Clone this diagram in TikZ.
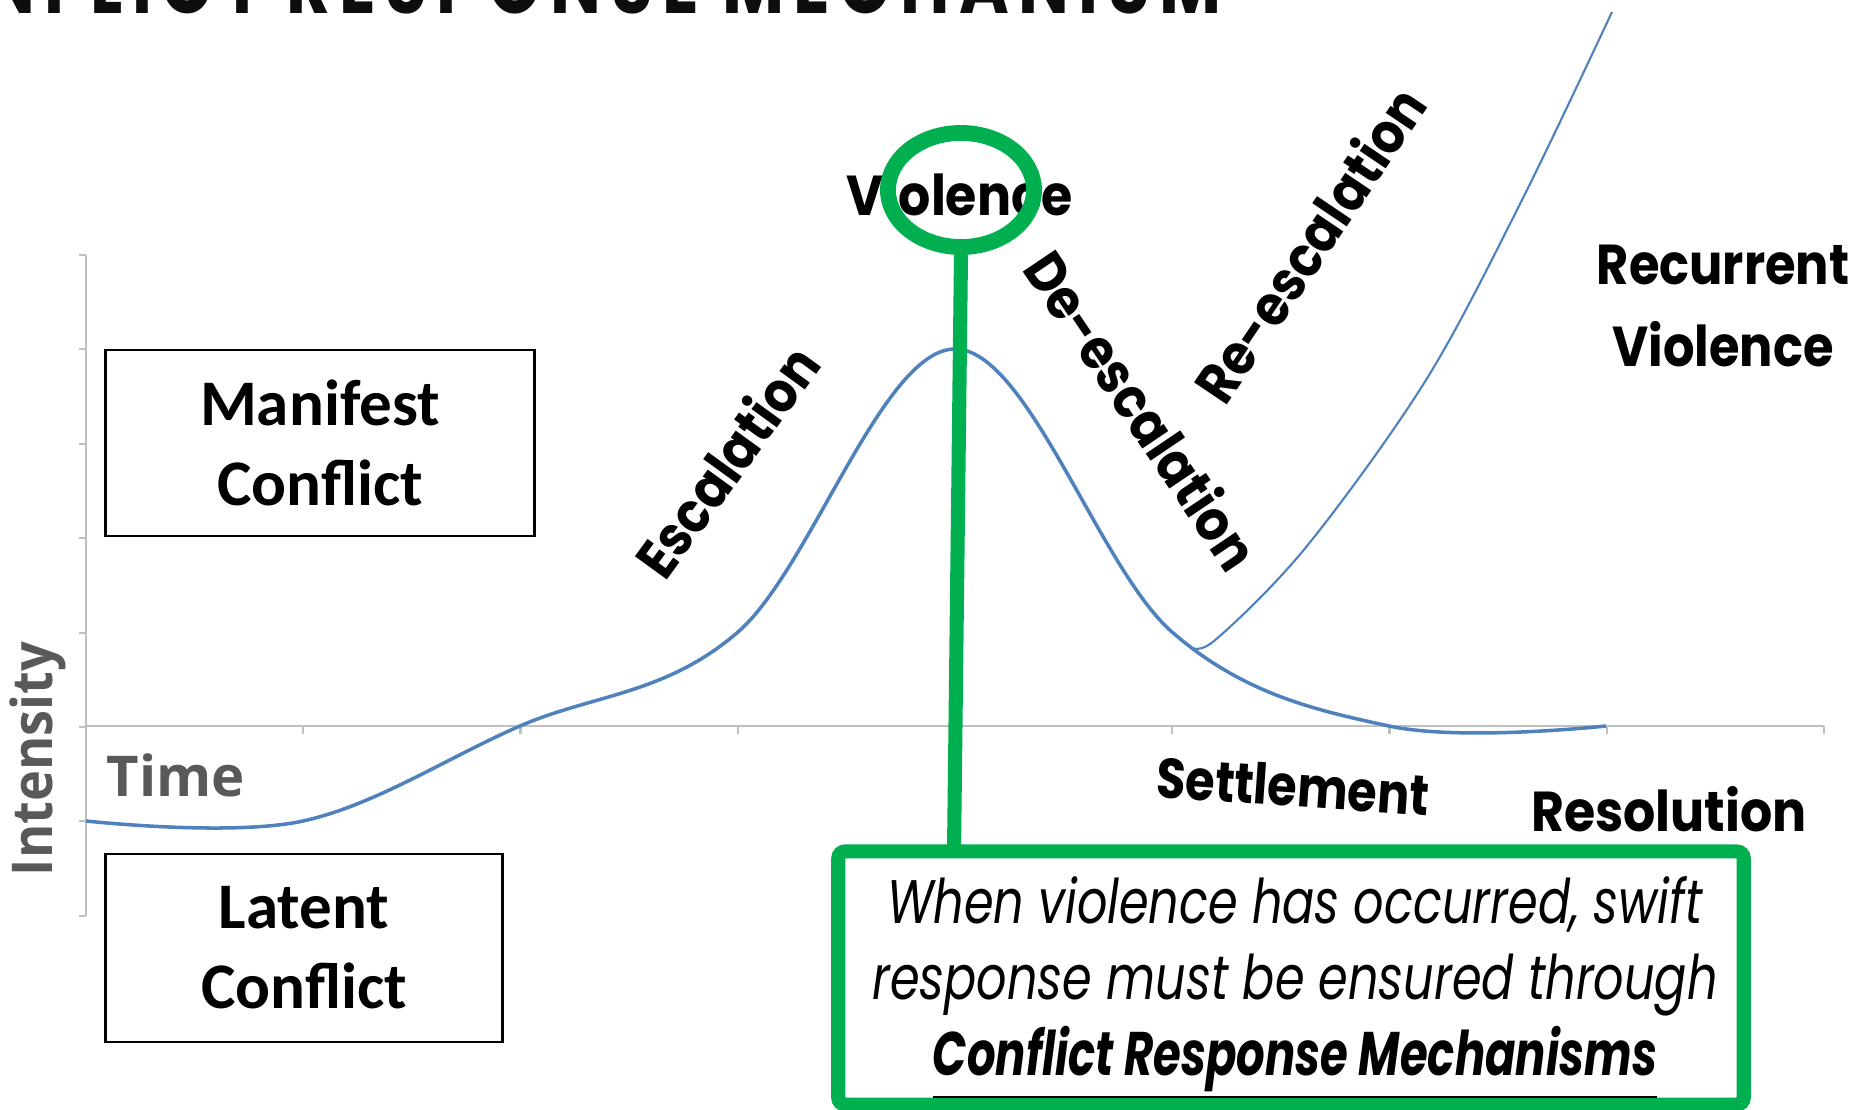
\documentclass[tikz,border=0pt]{standalone}
\usepackage{fontspec}
\setmainfont{Poppins}
\newfontfamily\calibrifont{Carlito}
\newfontfamily\chartfont{Open Sans}
\usepackage{xcolor}
\usepackage{tikz}
\usetikzlibrary{positioning, shapes.geometric, calc}
\definecolor{officegreen}{HTML}{00B050}
\definecolor{seriesblue}{HTML}{4F81BD}
\definecolor{gridgray}{HTML}{BFBFBF}
\definecolor{textgray}{HTML}{595959}
\newcommand{\squeeze}[2][0.89]{\scalebox{#1}[1]{#2}}
\tikzset{
    stage/.style={
        font=\fontsize{16}{23.3}\selectfont\bfseries,
        inner sep=0pt,
        align=center
    },
    axistext/.style={
        font=\chartfont\fontsize{16}{19}\selectfont\bfseries,
        text=textgray,
        inner sep=0pt
    },
    conflictbox/.style={
        draw=black,
        line width=0.7pt,
        align=center,
        font=\calibrifont\fontsize{18.5}{22.8}\selectfont\bfseries
    },
    axisline/.style={
        draw=gridgray,
        line width=0.6pt
    },
    trend/.style={
        draw=seriesblue,
        line width=1pt
    },
    branch/.style={
        draw=seriesblue,
        line width=0.6pt
    },
    ring/.style={
        ellipse,
        draw=officegreen,
        line width=4.5pt,
        minimum width=1.46cm,
        minimum height=1.14cm,
        inner sep=0pt
    },
    callout/.style={
        draw=officegreen,
        line width=4pt,
        rounded corners=2pt,
        minimum width=9.05cm,
        minimum height=2.53cm,
        inner sep=0pt
    },
    callouttext/.style={
        inner sep=0pt,
        align=center,
        font=\fontsize{17.5}{21.6}\selectfont\itshape
    },
    stem/.style={
        draw=officegreen,
        line width=4pt
    }
}

\begin{document}
\begin{tikzpicture}[x=0.01cm, y=-0.01cm]
\useasboundingbox (0,0) rectangle (1863,1110);

%---------------- Title ----------------

\node[stage, anchor=base east, text=black!95, font=\addfontfeatures{LetterSpace=14}\fontsize{24}{28}\selectfont\bfseries] (title) at (1222,14) {\squeeze[0.8]{CONFLICT RESPONSE MECHANISM}};

%---------------- Axes ----------------

\draw[axisline] (86,255) -- (86,916);
\draw[axisline] (86,726) -- (1824,726);
\foreach \k in {0,...,7}
    \draw[axisline] (79,{255+94.4*\k}) -- (86,{255+94.4*\k});
\foreach \k in {1,...,8}
    \draw[axisline] ({86+217.25*\k},726) -- ({86+217.25*\k},734);

\node[axistext, rotate=90] (intensity) at (38,759) {\squeeze[0.93]{Intensity}};
\node[axistext, anchor=base] (time) at (176,797) {Time};

%---------------- Curves ----------------

\draw[trend] plot[smooth, tension=0.6] coordinates {(86,821) (303,821) (520,726) (738,632) (955,349) (1172,632) (1389,726) (1606,726)};
\draw[branch] plot[smooth, tension=0.55] coordinates {(1188,645) (1214,641) (1307,546) (1426,380) (1521,202) (1612,12)};

%---------------- Stages ----------------

\node[stage, anchor=base] (violence) at (960,216) {\squeeze[0.9]{Violence}};
\node[stage, rotate=54] (escalation) at (726,461) {\squeeze{Escalation}};
\node[stage, rotate=-56] (deescalation) at (1143,410) {\squeeze{De-escalation}};
\node[stage, rotate=56] (reescalation) at (1309,244) {\squeeze{Re-escalation}};
\node[stage] (recurrent) at (1723,306) {\squeeze[0.88]{Recurrent}\\\squeeze[0.88]{Violence}};
\node[stage, rotate=-4] (settlement) at (1293,786) {\squeeze[0.85]{Settlement}};
\node[stage, anchor=base] (resolution) at (1669,832) {\squeeze[0.9]{Resolution}};

%---------------- Boxes ----------------

\node[conflictbox, minimum width=4.29cm, minimum height=1.86cm] (manifest) at (320,443) {Manifest\\Conflict};
\node[conflictbox, minimum width=3.97cm, minimum height=1.88cm] (latent) at (304,948) {Latent\\Conflict};

%---------------- Callout ----------------

\node[ring] (ring) at (961,190) {};
\node[callout] (note) at (1291,978) {};
\node[callouttext] (notetext) at ($(note.center)+(4,10)$) {\squeeze[0.775]{When violence has occurred, swift}\\
    \squeeze[0.775]{response must be ensured through}\\
    \squeeze[0.73]{\textbf{\underline{Conflict Response Mechanisms}}}};
\coordinate (foot) at (954,852);
\draw[stem] (ring.south) -- (foot);

\end{tikzpicture}
\end{document}
